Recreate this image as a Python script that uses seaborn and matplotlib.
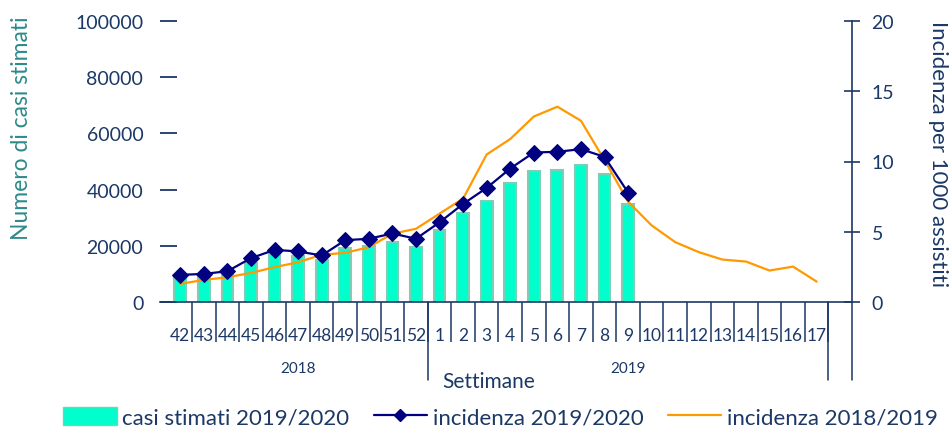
import matplotlib
matplotlib.use("Agg")
import matplotlib.pyplot as plt
import numpy as np
import pandas as pd
import seaborn as sns
from matplotlib.lines import Line2D
from matplotlib.patches import Patch

settimane = ['42', '43', '44', '45', '46', '47', '48', '49', '50', '51', '52',
             '1', '2', '3', '4', '5', '6', '7', '8', '9', '10', '11', '12',
             '13', '14', '15', '16', '17']
casi_stimati = [9000, 9300, 9500, 13800, 17000, 16250, 14950, 19100, 20050,
                21200, 19450, 25500, 31550, 35800, 42200, 46700, 47100, 48600,
                45500, 34800]
inc_2019 = [1.93, 2.0, 2.19, 3.12, 3.71, 3.6, 3.31, 4.4, 4.5, 4.88, 4.5, 5.67,
            6.98, 8.12, 9.5, 10.64, 10.69, 10.88, 10.33, 7.79]
inc_2018 = [1.29, 1.57, 1.76, 2.07, 2.48, 2.83, 3.36, 3.5, 3.9, 4.86, 5.21,
            6.29, 7.36, 10.5, 11.6, 13.2, 13.9, 12.9, 10.1, 7.14, 5.45, 4.26,
            3.55, 3.02, 2.88, 2.24, 2.52, 1.45]

navy = '#1b3866'
teal = '#2f8a8a'

sns.set_style('white')
plt.rcParams['font.family'] = ['Lato', 'DejaVu Sans']

df_bar = pd.DataFrame({'sett': settimane[:len(casi_stimati)], 'casi': casi_stimati})
df_2019 = pd.DataFrame({'pos': np.arange(len(inc_2019)), 'inc': inc_2019})
df_2018 = pd.DataFrame({'pos': np.arange(len(inc_2018)), 'inc': inc_2018})

fig = plt.figure(figsize=(9.53, 4.31), dpi=100)
ax = fig.add_axes([160 / 953, 1 - 303 / 431, (852 - 160) / 953, (303 - 22) / 431])

sns.barplot(data=df_bar, x='sett', y='casi', order=settimane, color='#00ffcc',
            saturation=1, width=0.5, edgecolor='#7fcdb5', linewidth=1.5, ax=ax)

ax2 = ax.twinx()
sns.lineplot(data=df_2018, x='pos', y='inc', color='#ff9900', linewidth=1.6, ax=ax2)
sns.lineplot(data=df_2019, x='pos', y='inc', color='#000080', linewidth=1.6,
             marker='D', markersize=8, markeredgecolor='#000080', ax=ax2)

ax.set_xlim(-0.86, 28.5)
ax.set_ylim(0, 100000)
ax2.set_ylim(0, 20)
ax.set_yticks([0, 20000, 40000, 60000, 80000, 100000])
ax2.set_yticks([0, 5, 10, 15, 20])

for a in (ax, ax2):
    for s in a.spines.values():
        s.set_visible(False)
ax.spines['bottom'].set_visible(True)
ax.spines['bottom'].set_color(navy)
ax.spines['bottom'].set_linewidth(1.2)
ax2.spines['right'].set_visible(True)
ax2.spines['right'].set_color(navy)
ax2.spines['right'].set_linewidth(1.2)
ax2.spines['right'].set_bounds(0, 20)

ax.tick_params(axis='y', direction='in', length=12, width=1.3, color=navy,
               labelcolor=navy, labelsize=14, pad=12, left=True)
ax2.tick_params(axis='y', direction='inout', length=12, width=1.2, color=navy,
                labelcolor=navy, labelsize=14, pad=8, right=True)

ax.set_xticks(np.arange(len(settimane)))
ax.set_xticklabels(settimane)
ax.set_xticks(np.arange(0.5, 28, 1), minor=True)
ax.tick_params(axis='x', which='major', length=0, labelsize=12.5, labelcolor=navy, pad=18)
ax.tick_params(axis='x', which='minor', direction='out', length=29, width=1.1,
               color=navy, bottom=True)

for xv in (10.5, 27.5, 28.5):
    ax.axvline(xv, ymin=-0.278, ymax=0, color=navy, linewidth=1.1, clip_on=False)

ax.set_xlabel('')
ax.set_ylabel('')
ax2.set_ylabel('')
ax.text(5, -0.235, '2018', transform=ax.get_xaxis_transform(), ha='center',
        va='center', fontsize=11, color=navy)
ax.text(19, -0.235, '2019', transform=ax.get_xaxis_transform(), ha='center',
        va='center', fontsize=11, color=navy)
ax.text(13.1, -0.28, 'Settimane', transform=ax.get_xaxis_transform(), ha='center',
        va='center', fontsize=15, color=navy)

fig.text(22 / 953, 1 - 128 / 431, 'Numero di casi stimati', rotation=90, ha='center',
         va='center', fontsize=16.5, color=teal)
fig.text(938 / 953, 1 - 154 / 431, 'Incidenza per 1000 assistiti', rotation=-90,
         ha='center', va='center', fontsize=16, color=navy)

handles = [Patch(facecolor='#00ffcc', edgecolor='#7fcdb5'),
           Line2D([], [], color='#000080', marker='D', markersize=6, linewidth=1.6),
           Line2D([], [], color='#ff9900', linewidth=1.6)]
labels = ['casi stimati 2019/2020', 'incidenza 2019/2020', 'incidenza 2018/2019']
leg = fig.legend(handles, labels, loc='center', bbox_to_anchor=(0.525, 1 - 418 / 431),
                 ncol=3, frameon=False, fontsize=16, handlelength=2.4,
                 handleheight=0.9, columnspacing=1.1, handletextpad=0.25)
for t in leg.get_texts():
    t.set_color(navy)

fig.savefig('out.png', dpi=100)
